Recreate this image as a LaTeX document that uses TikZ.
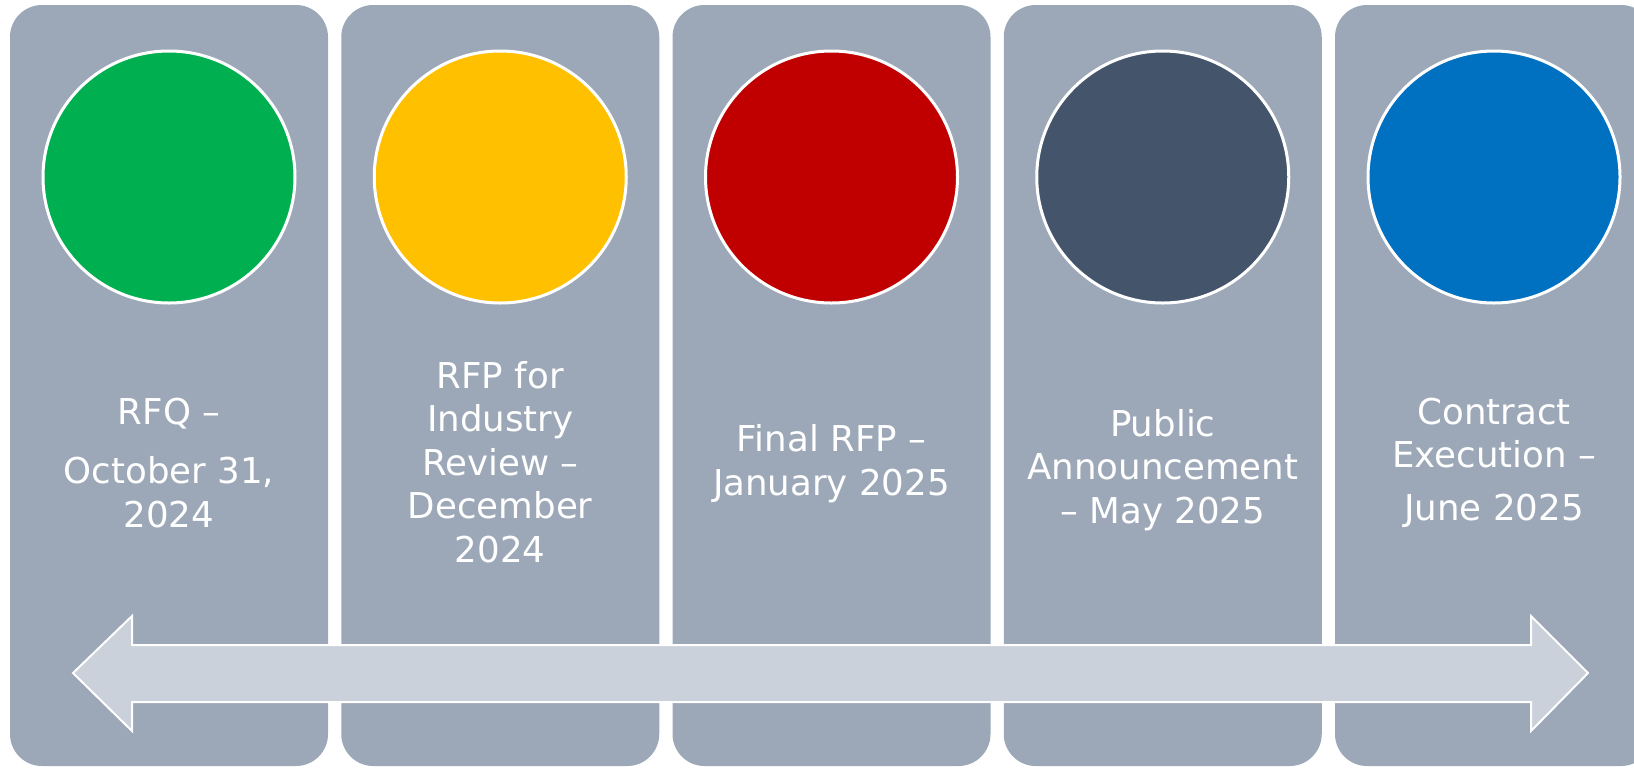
\documentclass[tikz,border=0pt]{standalone}
\usepackage{fontspec}
\setmainfont{DejaVu Sans}
\usetikzlibrary{positioning,shapes}

\definecolor{panelgray}{HTML}{9CA8B7}
\definecolor{arrowgray}{HTML}{CAD1DA}
\definecolor{rfqgreen}{HTML}{00B050}
\definecolor{rfpyellow}{HTML}{FFC000}
\definecolor{finalred}{HTML}{C00000}
\definecolor{pubslate}{HTML}{44546A}
\definecolor{execblue}{HTML}{0070C0}

\tikzset{
  panel/.style={rectangle,fill=panelgray,rounded corners=16pt,minimum width=159pt,minimum height=380.5pt,inner sep=0pt},
  milestone/.style={circle,draw=white,line width=1.5pt,minimum size=126pt,inner sep=0pt},
  caption/.style={anchor=base,align=center,text=white,inner sep=0pt,font=\fontsize{17.8}{21.75}\selectfont},
  timeline/.style={fill=arrowgray,draw=white,line width=1pt}
}

\begin{document}
\begin{tikzpicture}[x=0.5pt,y=-0.5pt]
      \useasboundingbox (0,0) rectangle (1634,767);
      \clip (0,0) rectangle (1634,767);
      \fill[white] (0,0) rectangle (1634,767);

      %panels
      \node[panel] (p1) at (169,385.5) {};
      \node[panel] (p2) at (500.25,385.5) {};
      \node[panel] (p3) at (831.5,385.5) {};
      \node[panel] (p4) at (1162.75,385.5) {};
      \node[panel] (p5) at (1494,385.5) {};

      %circles
      \node[milestone,fill=rfqgreen] (c1) at (169,177) {};
      \node[milestone,fill=rfpyellow] (c2) at (500.25,177) {};
      \node[milestone,fill=finalred] (c3) at (831.5,177) {};
      \node[milestone,fill=pubslate] (c4) at (1162.75,177) {};
      \node[milestone,fill=execblue] (c5) at (1494,177) {};

      %labels (base = last line)
      \node[caption] (t1) at (169,527) {RFQ –\\[8pt]October 31,\\2024};
      \node[caption] (t2) at (500.25,562) {RFP for\\Industry\\Review –\\December\\2024};
      \node[caption] (t3) at (831.5,495) {Final RFP –\\January 2025};
      \node[caption] (t4) at (1162.75,523) {Public\\Announcement\\– May 2025};
      \node[caption] (t5) at (1494,520) {Contract\\Execution –\\[4.5pt]June 2025};

      %double arrow
      \draw[timeline] (73,673) -- (132,616) -- (132,645) -- (1531,645) -- (1531,616) -- (1588,673)
        -- (1531,731) -- (1531,702) -- (132,702) -- (132,731) -- cycle;

    \end{tikzpicture}
\end{document}
